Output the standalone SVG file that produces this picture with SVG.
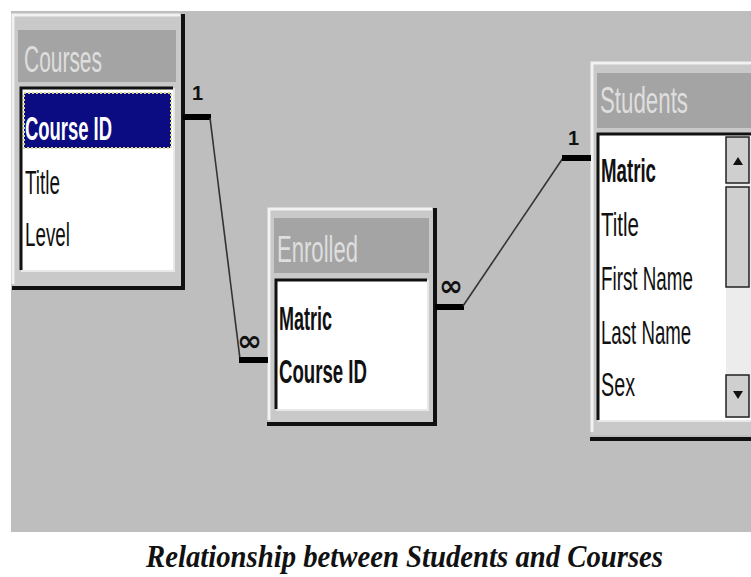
<svg xmlns="http://www.w3.org/2000/svg" width="751" height="577" viewBox="0 0 751 577">
<style>
.frame{fill:#c9c9c9}
.hl{fill:none;stroke:#f2f2f2;stroke-width:3}
.sh{fill:none;stroke:#111;stroke-width:4}
.tbar{fill:#a4a4a4}
.ttl{font-family:"Liberation Sans",Arial,sans-serif;font-size:36px;fill:#dedede}
.list{fill:#fff}
.inset{fill:none;stroke:#111;stroke-width:3}
.inset2{fill:none;stroke:#e8e8e8;stroke-width:2}
.fld{font-family:"Liberation Sans",Arial,sans-serif;font-size:33px;fill:#111}
.b{font-weight:bold}
.bar{stroke:#000;stroke-width:6;fill:none}
.ln{stroke:#333;stroke-width:1.6;fill:none}
.lab{font-family:"Liberation Sans",Arial,sans-serif;font-size:20px;font-weight:bold;fill:#111}
.inf{font-family:"DejaVu Sans",sans-serif;font-size:30px;font-weight:bold;fill:#111}
.cap{font-family:"Liberation Serif","Times New Roman",serif;font-size:32px;font-weight:bold;font-style:italic;fill:#111}
</style>
<rect x="0" y="0" width="751" height="577" fill="#ffffff"/>
<rect x="11" y="11" width="740" height="521" fill="#bebebe"/>

<g id="courses">
<rect class="frame" x="12" y="14" width="169" height="272"/>
<polyline class="hl" points="13,284 13,15 180,15"/>
<polyline class="sh" points="12,288 183,288 183,14"/>
<rect class="tbar" x="18" y="30" width="158" height="52"/>
<text class="ttl" x="24" y="72" textLength="78" lengthAdjust="spacingAndGlyphs">Courses</text>
<rect class="list" x="21" y="88" width="152" height="182"/>
<polyline class="inset" points="21,270 21,88 173,88"/>
<polyline class="inset2" points="21,271 174,271 174,88"/>
<rect x="24" y="93" width="147" height="55" fill="#0b0b82" stroke="#d8d890" stroke-width="2" stroke-dasharray="2,2"/>
<text class="fld b" x="25" y="140" style="fill:#fff" textLength="87" lengthAdjust="spacingAndGlyphs">Course ID</text>
<text class="fld" x="25" y="194" textLength="35" lengthAdjust="spacingAndGlyphs">Title</text>
<text class="fld" x="25" y="246" textLength="45" lengthAdjust="spacingAndGlyphs">Level</text>
</g>

<g id="enrolled">
<rect class="frame" x="268" y="208" width="166" height="214"/>
<polyline class="hl" points="269,420 269,209 432,209"/>
<polyline class="sh" points="267,424 435,424 435,208"/>
<rect class="tbar" x="274" y="218" width="155" height="55"/>
<text class="ttl" x="277" y="262" textLength="81" lengthAdjust="spacingAndGlyphs">Enrolled</text>
<rect class="list" x="275" y="279" width="152" height="130"/>
<polyline class="inset" points="276,409 276,280 427,280"/>
<polyline class="inset2" points="276,410 428,410 428,280"/>
<text class="fld b" x="279" y="330" textLength="53" lengthAdjust="spacingAndGlyphs">Matric</text>
<text class="fld b" x="279" y="383" textLength="88" lengthAdjust="spacingAndGlyphs">Course ID</text>
</g>

<g id="students">
<rect class="frame" x="591" y="62" width="160" height="373"/>
<polyline class="hl" points="592,432 592,63 751,63"/>
<line class="sh" x1="590" y1="439" x2="751" y2="439"/>
<rect class="tbar" x="597" y="73" width="154" height="55"/>
<text class="ttl" x="600" y="113" textLength="88" lengthAdjust="spacingAndGlyphs">Students</text>
<rect class="list" x="597" y="133" width="154" height="287"/>
<polyline class="inset" points="598,420 598,134 751,134"/>
<line class="inset2" x1="598" y1="421" x2="751" y2="421"/>
<text class="fld b" x="601" y="182" textLength="55" lengthAdjust="spacingAndGlyphs">Matric</text>
<text class="fld" x="601" y="236" textLength="38" lengthAdjust="spacingAndGlyphs">Title</text>
<text class="fld" transform="translate(601,290) scale(0.57,1)">First Name</text>
<text class="fld" transform="translate(601,344) scale(0.565,1)">Last Name</text>
<text class="fld" x="601" y="396" textLength="34" lengthAdjust="spacingAndGlyphs">Sex</text>
<rect x="726" y="137" width="25" height="281" fill="#ececec"/>
<rect x="726" y="137" width="23" height="46" fill="#cfcfcf" stroke="#222" stroke-width="1.5"/>
<polygon points="733,165 743,165 738,157" fill="#111"/>
<rect x="726" y="187" width="23" height="100" fill="#cfcfcf" stroke="#222" stroke-width="1.5"/>
<rect x="726" y="375" width="23" height="42" fill="#cfcfcf" stroke="#222" stroke-width="1.5"/>
<polygon points="733,391 743,391 738,399" fill="#111"/>
</g>

<g id="connectors">
<line class="bar" x1="183" y1="117" x2="211" y2="117"/>
<line class="ln" x1="210" y1="118" x2="240" y2="359"/>
<line class="bar" x1="239" y1="360" x2="268" y2="360"/>
<text class="lab" x="192" y="100">1</text>
<text class="inf" x="237" y="351" textLength="25" lengthAdjust="spacingAndGlyphs">∞</text>
<line class="bar" x1="435" y1="307" x2="464" y2="307"/>
<line class="ln" x1="463" y1="306" x2="563" y2="158"/>
<line class="bar" x1="562" y1="158" x2="591" y2="158"/>
<text class="lab" x="568" y="145">1</text>
<text class="inf" x="439" y="296" textLength="24" lengthAdjust="spacingAndGlyphs">∞</text>
</g>

<text class="cap" x="146" y="567" textLength="517" lengthAdjust="spacingAndGlyphs">Relationship between Students and Courses</text>
</svg>
